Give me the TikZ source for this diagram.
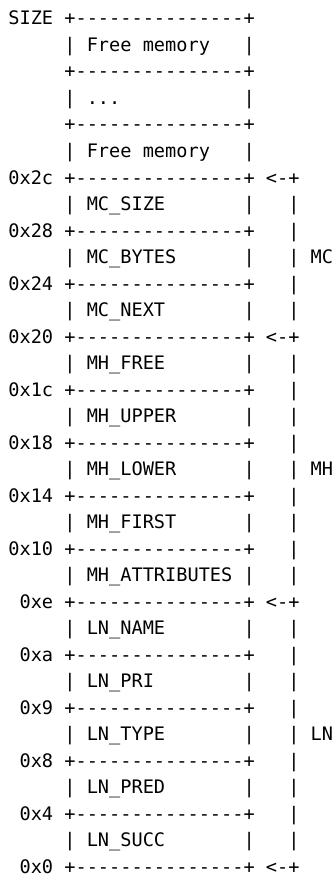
\documentclass[tikz,border=0pt]{standalone}
\usepackage{fontspec}
\setmonofont{DejaVu Sans Mono}
\tikzset{
  rowtext/.style={anchor=base west, inner sep=0pt, outer sep=0pt,
    font=\ttfamily\fontsize{18.6}{26.5}\selectfont, text=black}
}
% one line of the memory map, set in a monospace font
\newcommand\maprow[2]{\node[rowtext] (row#1) at (8.4, {25+26.5*(#1-1)}) {#2};}
\begin{document}
\begin{tikzpicture}[x=1pt, y=-1pt]
  \useasboundingbox[fill=white] (0,0) rectangle (336,880);
  \maprow{1}{SIZE~+---------------+}
  \maprow{2}{~~~~~|~Free~memory~~~|}
  \maprow{3}{~~~~~+---------------+}
  \maprow{4}{~~~~~|~...~~~~~~~~~~~|}
  \maprow{5}{~~~~~+---------------+}
  \maprow{6}{~~~~~|~Free~memory~~~|}
  \maprow{7}{0x2c~+---------------+~<-+}
  \maprow{8}{~~~~~|~MC\_SIZE~~~~~~~|~~~|}
  \maprow{9}{0x28~+---------------+~~~|}
  \maprow{10}{~~~~~|~MC\_BYTES~~~~~~|~~~|~MC}
  \maprow{11}{0x24~+---------------+~~~|}
  \maprow{12}{~~~~~|~MC\_NEXT~~~~~~~|~~~|}
  \maprow{13}{0x20~+---------------+~<-+}
  \maprow{14}{~~~~~|~MH\_FREE~~~~~~~|~~~|}
  \maprow{15}{0x1c~+---------------+~~~|}
  \maprow{16}{~~~~~|~MH\_UPPER~~~~~~|~~~|}
  \maprow{17}{0x18~+---------------+~~~|}
  \maprow{18}{~~~~~|~MH\_LOWER~~~~~~|~~~|~MH}
  \maprow{19}{0x14~+---------------+~~~|}
  \maprow{20}{~~~~~|~MH\_FIRST~~~~~~|~~~|}
  \maprow{21}{0x10~+---------------+~~~|}
  \maprow{22}{~~~~~|~MH\_ATTRIBUTES~|~~~|}
  \maprow{23}{~0xe~+---------------+~<-+}
  \maprow{24}{~~~~~|~LN\_NAME~~~~~~~|~~~|}
  \maprow{25}{~0xa~+---------------+~~~|}
  \maprow{26}{~~~~~|~LN\_PRI~~~~~~~~|~~~|}
  \maprow{27}{~0x9~+---------------+~~~|}
  \maprow{28}{~~~~~|~LN\_TYPE~~~~~~~|~~~|~LN}
  \maprow{29}{~0x8~+---------------+~~~|}
  \maprow{30}{~~~~~|~LN\_PRED~~~~~~~|~~~|}
  \maprow{31}{~0x4~+---------------+~~~|}
  \maprow{32}{~~~~~|~LN\_SUCC~~~~~~~|~~~|}
  \maprow{33}{~0x0~+---------------+~<-+}
\end{tikzpicture}
\end{document}
